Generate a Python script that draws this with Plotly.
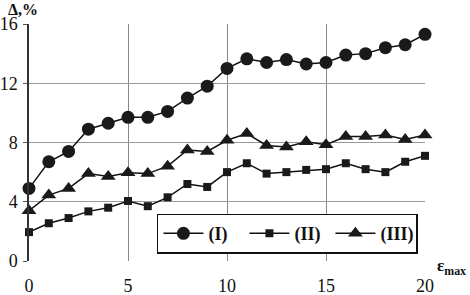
import plotly.graph_objects as go

x_vals = list(range(0, 21))
series_I = [4.9, 6.7, 7.4, 8.9, 9.3, 9.7, 9.7, 10.1, 11.0, 11.8, 13.0, 13.65, 13.4, 13.6, 13.3, 13.4, 13.9, 14.0, 14.4, 14.6, 15.3]
series_II = [1.95, 2.55, 2.9, 3.35, 3.6, 4.05, 3.7, 4.3, 5.2, 5.0, 6.0, 6.6, 5.9, 6.0, 6.15, 6.2, 6.6, 6.2, 6.0, 6.7, 7.1]
series_III = [3.4, 4.45, 4.9, 5.9, 5.7, 5.95, 5.9, 6.4, 7.5, 7.4, 8.15, 8.6, 7.8, 7.7, 8.05, 7.85, 8.4, 8.4, 8.5, 8.2, 8.5]
names = ["(I)", "(II)", "(III)"]
x_ticks = [0, 5, 10, 15, 20]
y_ticks = [0, 4, 8, 12, 16]

FONT = "Times New Roman, Liberation Serif, serif"

fig = go.Figure()
fig.add_trace(go.Scatter(x=x_vals, y=series_I, name=names[0], mode="lines+markers",
                         line=dict(color="#111", width=1.5),
                         marker=dict(symbol="circle", size=13, color="#1a1a1a"), cliponaxis=False))
fig.add_trace(go.Scatter(x=x_vals, y=series_II, name=names[1], mode="lines+markers",
                         line=dict(color="#111", width=1.5),
                         marker=dict(symbol="square", size=8, color="#1a1a1a"), cliponaxis=False))
fig.add_trace(go.Scatter(x=x_vals, y=series_III, name=names[2], mode="lines+markers",
                         line=dict(color="#111", width=1.5),
                         marker=dict(symbol="triangle-up", size=13, color="#1a1a1a"), cliponaxis=False))

fig.update_layout(
    width=470, height=295,
    margin=dict(l=29, r=45, t=24, b=34),
    paper_bgcolor="white", plot_bgcolor="white",
    font=dict(family=FONT, color="#111", size=18),
    showlegend=True,
    legend=dict(orientation="h", x=0.323, y=0.2, xanchor="left", yanchor="top",
                bgcolor="white", bordercolor="#111", borderwidth=1.5,
                font=dict(family=FONT, size=18, color="#111", weight="bold"),
                itemwidth=40, entrywidth=31, entrywidthmode="pixels", tracegroupgap=0),
    xaxis=dict(range=[0, 20], tickvals=x_ticks, showgrid=True, gridcolor="#888", gridwidth=1,
               zeroline=False, showline=False, ticks="", ticklabelstandoff=12, automargin=False,
               tickfont=dict(family=FONT, size=18)),
    yaxis=dict(range=[0, 16], tickvals=y_ticks, showgrid=True, gridcolor="#999", gridwidth=1,
               zeroline=False, showline=True, linecolor="#333", linewidth=1.5, automargin=False,
               ticks="outside", ticklen=4, tickcolor="#555", ticklabelstandoff=2,
               tickfont=dict(family=FONT, size=18)),
    annotations=[
        dict(text="<b>Δ,%</b>", xref="paper", yref="paper", x=-0.058, y=1.0, yshift=25,
             xanchor="left", yanchor="top", showarrow=False,
             font=dict(family=FONT, size=16, color="#111")),
        dict(text="<b>ε<sub>max</sub></b>", xref="paper", yref="paper", x=1.0, y=0, xshift=10, yshift=-6,
             xanchor="left", yanchor="middle", showarrow=False,
             font=dict(family=FONT, size=17, color="#111")),
    ],
)

fig.write_html("out.html", config={"displayModeBar": False},
               post_script="document.body.style.margin='0';document.body.style.padding='0';")
